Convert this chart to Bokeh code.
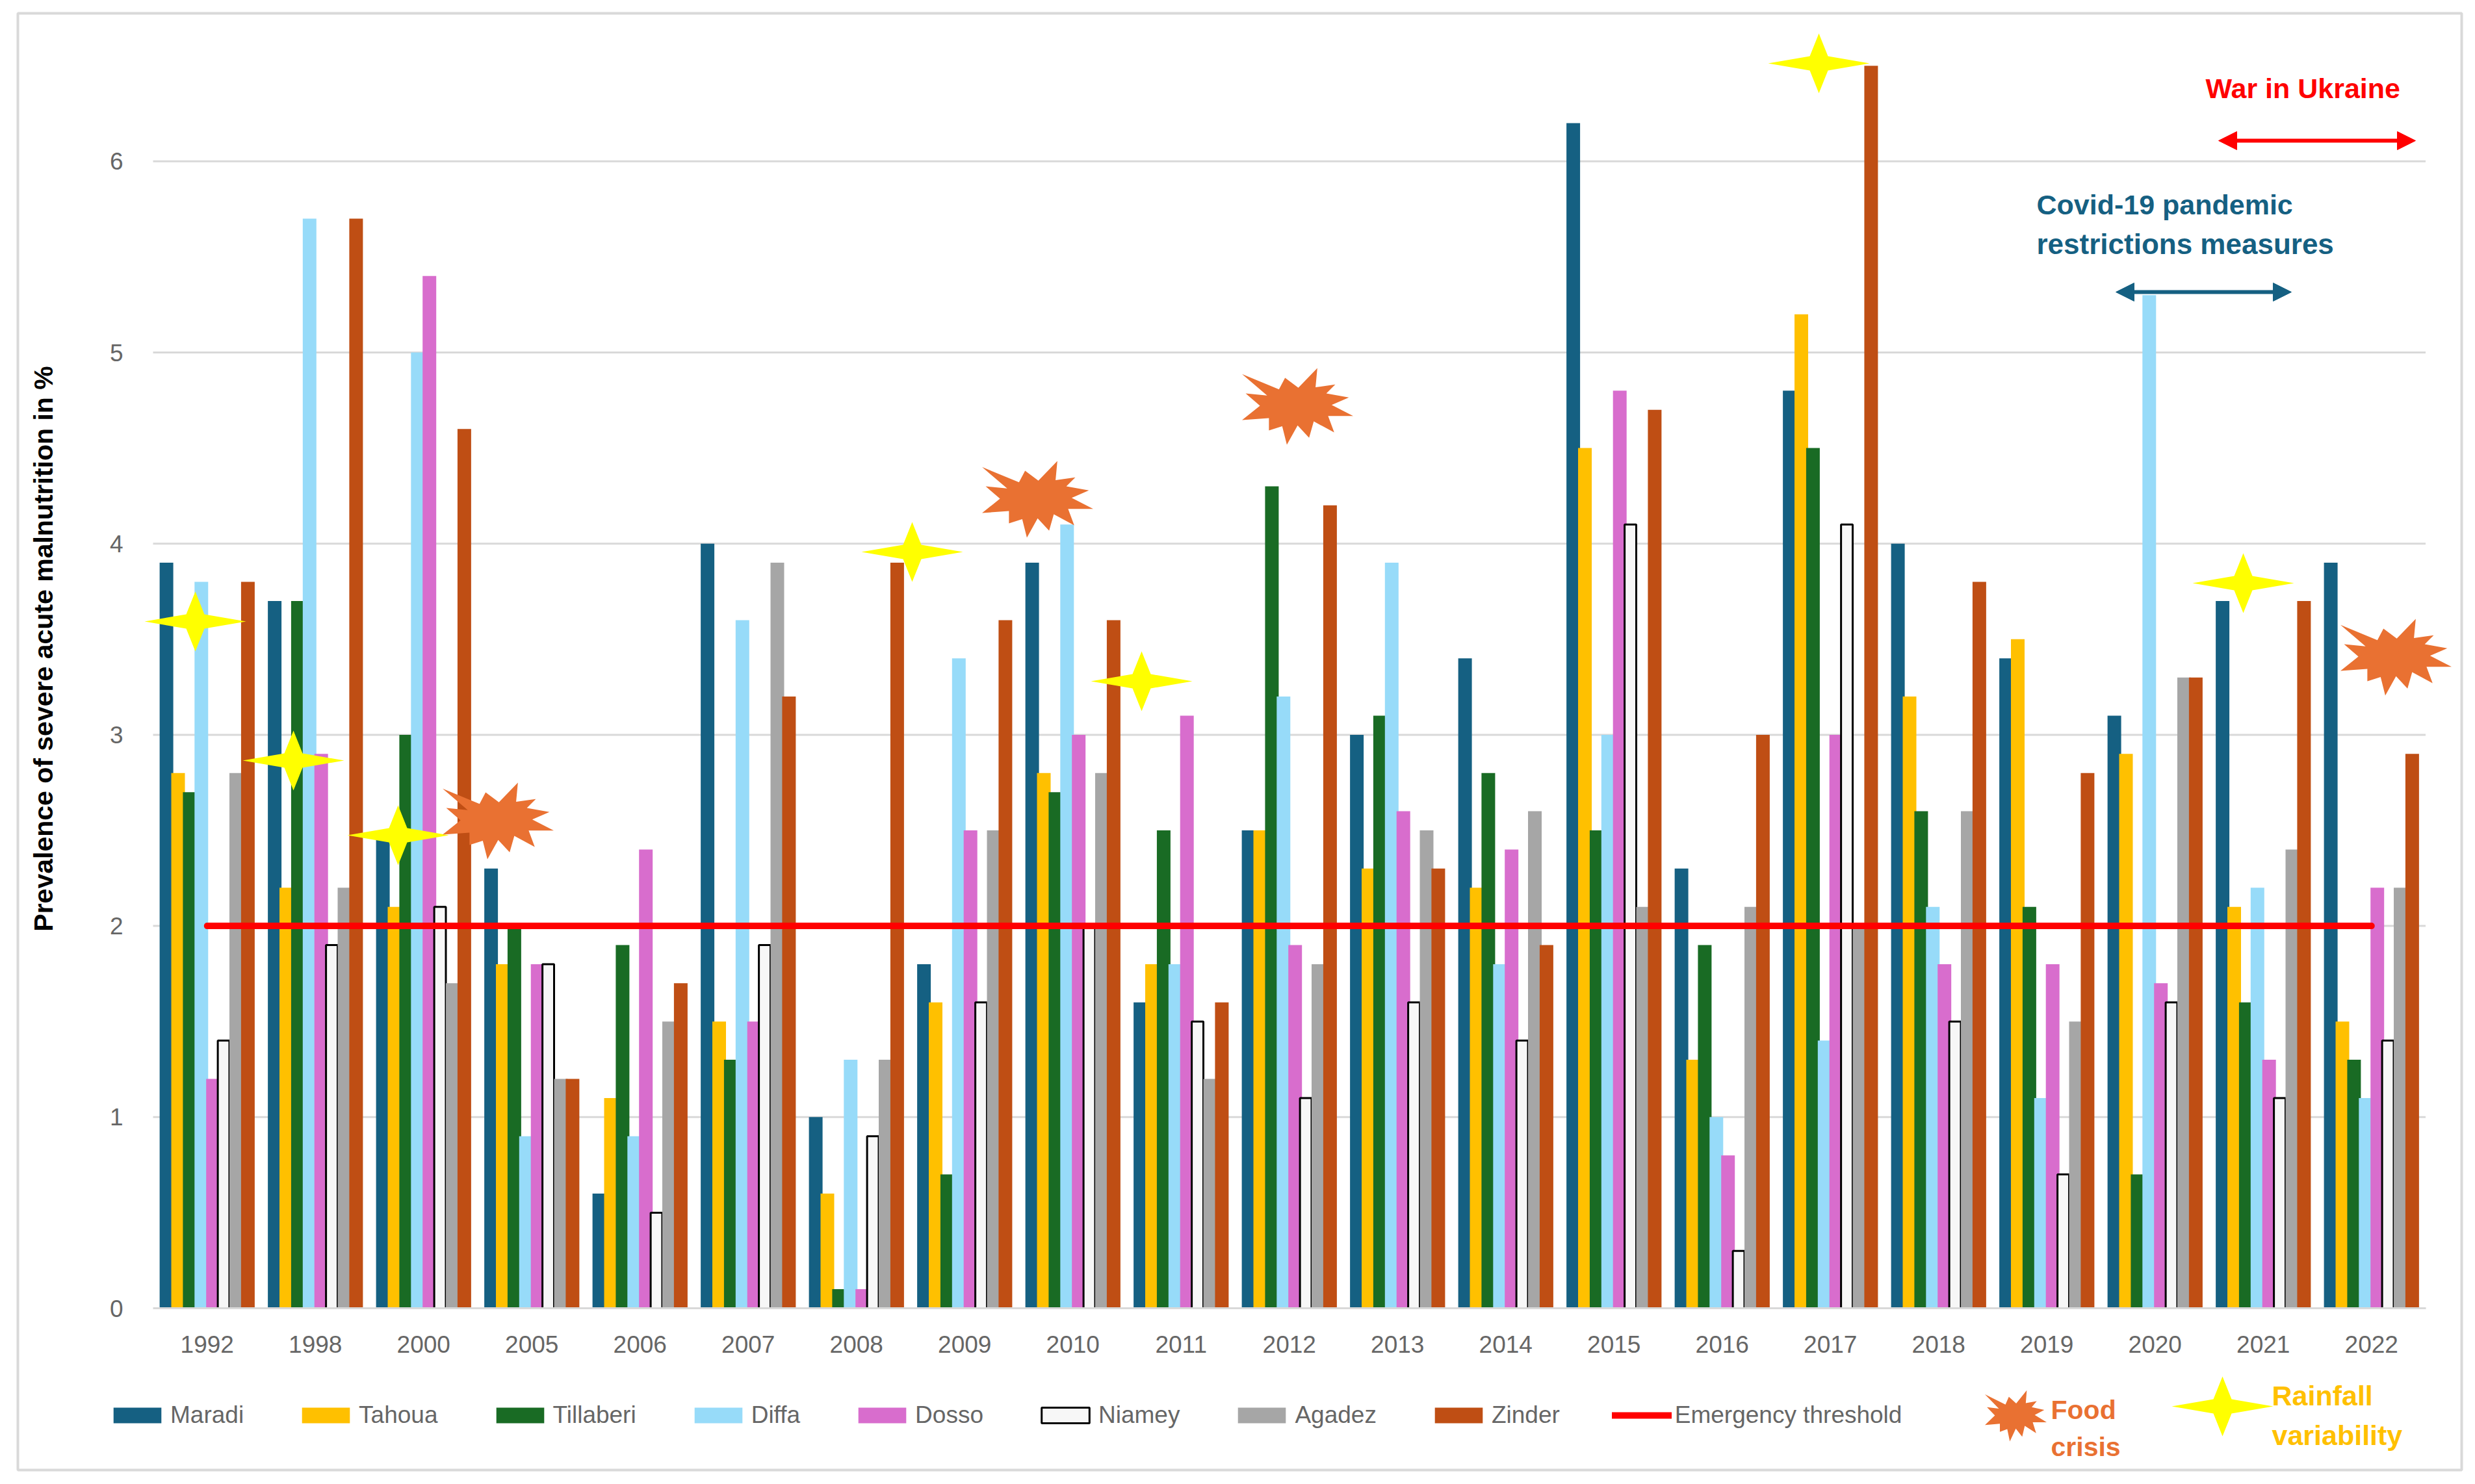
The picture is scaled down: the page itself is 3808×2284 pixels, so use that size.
import math
from bokeh.plotting import figure
from bokeh.models import (Range1d, FixedTicker, Label, Legend, LegendItem, Arrow, NormalHead)
from bokeh.embed import file_html
from bokeh.resources import INLINE

years = ["1992","1998","2000","2005","2006","2007","2008","2009","2010","2011","2012",
         "2013","2014","2015","2016","2017","2018","2019","2020","2021","2022"]
maradi    = [3.9,3.7,2.5,2.3,0.6,4.0,1.0,1.8,3.9,1.6,2.5,3.0,3.4,6.2,2.3,4.8,4.0,3.4,3.1,3.7,3.9]
tahoua    = [2.8,2.2,2.1,1.8,1.1,1.5,0.6,1.6,2.8,1.8,2.5,2.3,2.2,4.5,1.3,5.2,3.2,3.5,2.9,2.1,1.5]
tillaberi = [2.7,3.7,3.0,2.0,1.9,1.3,0.1,0.7,2.7,2.5,4.3,3.1,2.8,2.5,1.9,4.5,2.6,2.1,0.7,1.6,1.3]
diffa     = [3.8,5.7,5.0,0.9,0.9,3.6,1.3,3.4,4.1,1.8,3.2,3.9,1.8,3.0,1.0,1.4,2.1,1.1,5.3,2.2,1.1]
dosso     = [1.2,2.9,5.4,1.8,2.4,1.5,0.1,2.5,3.0,3.1,1.9,2.6,2.4,4.8,0.8,3.0,1.8,1.8,1.7,1.3,2.2]
niamey    = [1.4,1.9,2.1,1.8,0.5,1.9,0.9,1.6,2.0,1.5,1.1,1.6,1.4,4.1,0.3,4.1,1.5,0.7,1.6,1.1,1.4]
agadez    = [2.8,2.2,1.7,1.2,1.5,3.9,1.3,2.5,2.8,1.2,1.8,2.5,2.6,2.1,2.1,2.0,2.6,1.5,3.3,2.4,2.2]
zinder    = [3.8,5.7,4.6,1.2,1.7,3.2,3.9,3.6,3.6,1.6,4.2,2.3,1.9,4.7,3.0,6.5,3.8,2.8,3.3,3.7,2.9]
threshold = 2
y_ticks = [0,1,2,3,4,5,6]

series_names = ["Maradi","Tahoua","Tillaberi","Diffa","Dosso","Niamey","Agadez","Zinder"]
series_values = [maradi,tahoua,tillaberi,diffa,dosso,niamey,agadez,zinder]
series_colors = ["#156082","#FFC000","#196B24","#97DBF9","#D86DCD","#F7F7F7","#A6A6A6","#BF4E14"]

# picture-pixel geometry of the plot area
PX0, PXW = 235.0, 166.5
PY0, PYH = 2013.0, 294.2
def dx(px): return (px - PX0) / PXW
def dy(py): return (PY0 - py) / PYH

W, H = 3792, 2268
p = figure(width=W, height=H, output_backend="svg", toolbar_location=None,
           x_range=Range1d(dx(0), dx(W)), y_range=Range1d(dy(H), dy(0)),
           min_border=0)
p.outline_line_color = None
p.grid.visible = False
p.background_fill_color = "white"

# outer picture frame
p.quad(left=[dx(27)], right=[dx(3787)], top=[dy(20)], bottom=[dy(2262)],
       fill_color=None, line_color="#D9D9D9", line_width=4)

# gridlines
grid_vals = y_ticks[1:]
p.segment(x0=[0]*len(grid_vals), x1=[len(years)]*len(grid_vals), y0=grid_vals, y1=grid_vals,
          line_color="#D9D9D9", line_width=3)

# axes
xax = p.xaxis[0]
xax.fixed_location = 0
xax.ticker = FixedTicker(ticks=[i + 0.5 for i in range(len(years))])
xax.major_label_overrides = {i + 0.5: y for i, y in enumerate(years)}
xax.bounds = (0, len(years))
xax.axis_line_color = "#D9D9D9"
xax.axis_line_width = 3
xax.major_tick_line_color = None
xax.minor_tick_line_color = None
xax.major_label_text_font = "Liberation Sans"
xax.major_label_text_font_size = "37px"
xax.major_label_text_color = "#666666"
xax.major_label_standoff = 36

yax = p.yaxis[0]
yax.fixed_location = 0
yax.ticker = FixedTicker(ticks=y_ticks)
yax.axis_line_color = None
yax.major_tick_line_color = None
yax.minor_tick_line_color = None
yax.major_label_text_font = "Liberation Sans"
yax.major_label_text_font_size = "37px"
yax.major_label_text_color = "#666666"
yax.major_label_standoff = 40

# bars
step, bw = 0.1075, 0.126
group_left = 0.5 - 3.5 * step - bw / 2
items = []
for k, (nm, vals, col) in enumerate(zip(series_names, series_values, series_colors)):
    w = step if nm == "Niamey" else bw
    xs = [i + group_left + k * step + w / 2 for i in range(len(years))]
    r = p.vbar(x=xs, top=vals, bottom=0, width=w, fill_color=col,
               line_color="black" if nm == "Niamey" else None,
               line_width=3 if nm == "Niamey" else 0)
    items.append(LegendItem(label=nm, renderers=[r]))

# threshold
rt = p.line([0.5, len(years) - 0.5], [threshold, threshold], line_color="#FF0000",
            line_width=10, line_cap="round")
items.append(LegendItem(label="Emergency threshold", renderers=[rt]))

leg = Legend(items=items, orientation="horizontal", location=(165, 69),
             spacing=80, label_standoff=5, glyph_width=92, glyph_height=30,
             margin=0, padding=0, border_line_color=None, background_fill_alpha=0,
             label_text_font="Liberation Sans", label_text_font_size="37px",
             label_text_color="#666666")
p.add_layout(leg)

# rainfall stars / food crisis bursts (decoration)
def star(cx, cy, a=78, b=46, ia=14, ib=11):
    pts = [(a,0),(ia,ib),(0,b),(-ia,ib),(-a,0),(-ia,-ib),(0,-b),(ia,-ib)]
    return [dx(cx + u) for u, v in pts], [dy(cy + v) for u, v in pts]

burst_shape = [(1180,1363),(1283,1400),(1300,1372),(1337,1396),(1390,1348),(1385,1395),
               (1440,1388),(1415,1410),(1478,1420),(1430,1438),(1490,1465),(1420,1465),
               (1437,1505),(1380,1478),(1367,1518),(1335,1488),(1305,1535),(1292,1490),
               (1255,1500),(1255,1470),(1180,1475),(1230,1440),(1190,1410),(1250,1415)]
def burst(cx, cy, w=171, h=120):
    xs = [dx(cx + (x - 1335) / 155 * w / 2) for x, y in burst_shape]
    ys = [dy(cy + (y - 1440) / 95 * h / 2) for x, y in burst_shape]
    return xs, ys

star_pos = [(300,956),(451,1170),(612,1285),(1403,849),(1756,1048),(2798,97),(3451,897),(3419,2164)]
sx, sy = zip(*[star(*c) for c in star_pos])
p.patches(list(sx), list(sy), fill_color="#FFFF00", line_color=None)

burst_pos = [(766,1262,171,120),(1596,767,171,120),(1996,624,171,120),(3686,1010,171,120),(3101,2178,95,80)]
bx, by = zip(*[burst(*c) for c in burst_pos])
p.patches(list(bx), list(by), fill_color="#E97132", line_color=None)

# arrows
for x0, x1, y, col in [(3413,3716,216,"#FF0000"),(3255,3525,449,"#156082")]:
    p.add_layout(Arrow(x_start=dx(x0), x_end=dx(x1), y_start=dy(y), y_end=dy(y),
                       line_color=col, line_width=6,
                       start=NormalHead(size=28, fill_color=col, line_color=col, line_width=1),
                       end=NormalHead(size=28, fill_color=col, line_color=col, line_width=1)))

def note(txt, x, y, col, size="43px"):
    p.add_layout(Label(x=dx(x), y=dy(y), text=txt, text_color=col, text_font="Liberation Sans",
                       text_font_style="bold", text_font_size=size, text_baseline="middle",
                       text_align="left"))

note("War in Ukraine", 3393, 135, "#FF0000")
note("Covid-19 pandemic", 3133, 314, "#156082")
note("restrictions measures", 3133, 375, "#156082", "44px")
note("Food", 3155, 2169, "#E97132", "41px")
note("crisis", 3155, 2226, "#E97132", "41px")
note("Rainfall", 3495, 2147, "#FFC000")
note("variability", 3495, 2208, "#FFC000")

# y-axis title
p.add_layout(Label(x=dx(66), y=dy(998), text="Prevalence of severe acute malnutrition in %",
                   angle=math.pi / 2, text_color="black", text_font="Liberation Sans",
                   text_font_style="bold", text_font_size="41px", text_baseline="middle",
                   text_align="center"))

open("out.html", "w").write(file_html(p, INLINE))
